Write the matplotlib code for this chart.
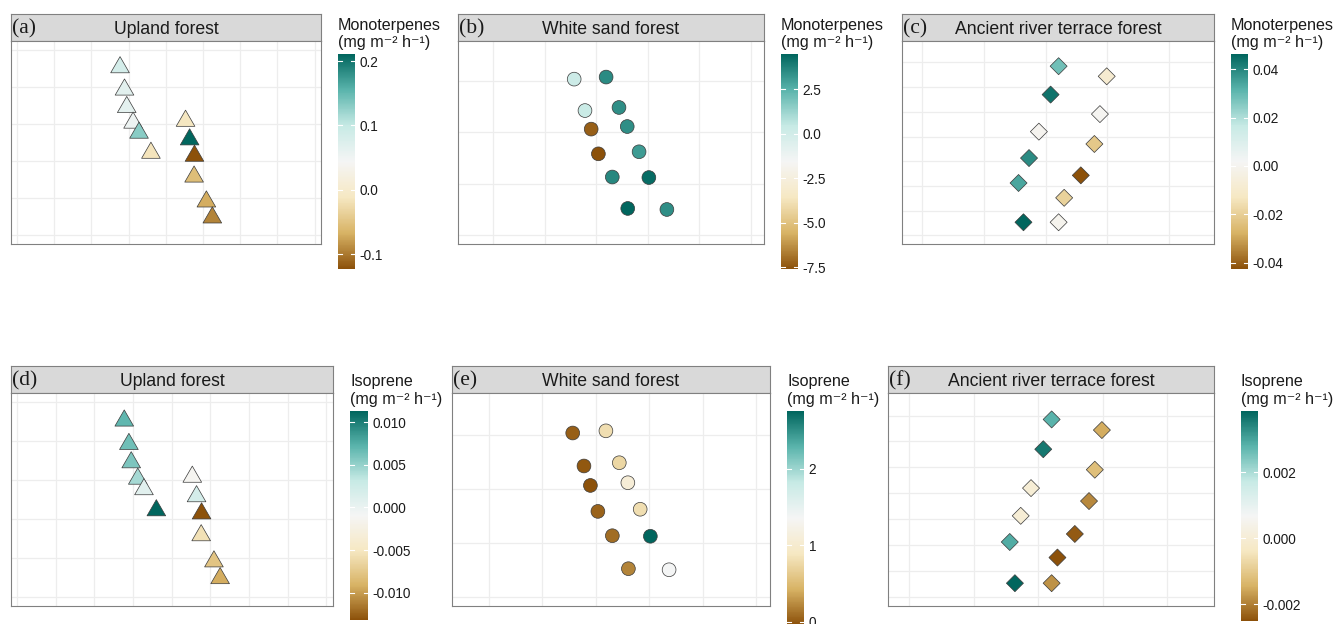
import matplotlib
matplotlib.use("Agg")
import matplotlib.pyplot as plt
from matplotlib.colors import LinearSegmentedColormap, Normalize
from matplotlib.cm import ScalarMappable
from matplotlib.path import Path

# ---------------- data ----------------
forest_names = ["Upland forest", "White sand forest", "Ancient river terrace forest"]
panel_tags = ["(a)", "(b)", "(c)", "(d)", "(e)", "(f)"]
compound_names = ["Monoterpenes", "Isoprene"]
unit_label = "(mg m\u207b\u00b2 h\u207b\u00b9)"

# tree positions (grid units)
upland_x = [2.77, 2.89, 2.95, 3.12, 3.28, 3.60, 4.53, 4.64, 4.77, 4.76, 5.09, 5.25]
upland_y = [4.52, 3.92, 3.45, 3.03, 2.76, 2.22, 3.08, 2.58, 2.14, 1.58, 0.91, 0.48]
whitesand_x = [1.57, 2.19, 1.78, 2.44, 1.90, 2.60, 2.04, 2.83, 2.31, 3.02, 2.61, 3.37]
whitesand_y = [3.03, 3.07, 2.42, 2.48, 2.06, 2.11, 1.58, 1.62, 1.13, 1.12, 0.52, 0.50]
terrace_x = [2.21, 2.99, 2.08, 2.88, 1.89, 2.79, 1.73, 2.57, 1.56, 2.30, 1.64, 2.21]
terrace_y = [6.85, 6.44, 5.70, 4.91, 4.20, 3.70, 3.13, 2.43, 2.12, 1.52, 0.53, 0.53]

# emission values (mg m-2 h-1)
upland_monoterpenes = [0.084, 0.067, 0.064, 0.054, 0.131, -0.016, -0.013, 0.211, -0.123, -0.056, -0.070, -0.093]
whitesand_monoterpenes = [0.2, 3.5, 0.3, 3.4, -7.3, 3.4, -7.6, 3.1, 3.6, 4.3, 4.47, 3.4]
terrace_monoterpenes = [0.0285, -0.0090, 0.0435, 0.0005, 0.0000, -0.022, 0.039, -0.0425, 0.034, -0.019, 0.0462, -0.0005]
upland_isoprene = [0.0069, 0.0064, 0.0059, 0.0044, 0.0008, 0.0113, -0.0014, 0.0020, -0.0132, -0.0056, -0.0078, -0.0093]
whitesand_isoprene = [0.03, 0.81, 0.0, 0.74, -0.04, 1.08, 0.05, 0.80, 0.10, 2.75, 0.20, 1.36]
terrace_isoprene = [0.0028, -0.0015, 0.0036, -0.0012, 0.0000, -0.0019, 0.0000, -0.0024, 0.0029, -0.0025, 0.00385, -0.0018]

# colourbar ticks
ticks_a = [-0.1, 0.0, 0.1, 0.2]
labels_a = ["-0.1", "0.0", "0.1", "0.2"]
ticks_b = [-7.5, -5.0, -2.5, 0.0, 2.5]
labels_b = ["-7.5", "-5.0", "-2.5", "0.0", "2.5"]
ticks_c = [-0.04, -0.02, 0.0, 0.02, 0.04]
labels_c = ["-0.04", "-0.02", "0.00", "0.02", "0.04"]
ticks_d = [-0.010, -0.005, 0.0, 0.005, 0.010]
labels_d = ["-0.010", "-0.005", "0.000", "0.005", "0.010"]
ticks_e = [0, 1, 2]
labels_e = ["0", "1", "2"]
ticks_f = [-0.002, 0.0, 0.002]
labels_f = ["-0.002", "0.000", "0.002"]

brbg7 = ["#8C510A", "#D8B365", "#F6E8C3", "#F5F5F5", "#C7EAE5", "#5AB4AC", "#01665E"]

# ---------------- layout ----------------
W, H = 1336, 624
SANS = ["Liberation Sans", "DejaVu Sans"]
SERIF = ["Liberation Serif", "DejaVu Serif"]

fig = plt.figure(figsize=(W / 100, H / 100), dpi=100)
cmap = LinearSegmentedColormap.from_list("brbg7", brbg7, N=256)


def px_axes(x0, y0, x1, y1):
    return fig.add_axes([x0 / W, 1 - y1 / H, (x1 - x0) / W, (y1 - y0) / H])


def ftext(x, y, s, **kw):
    return fig.text(x / W, 1 - y / H, s, **kw)


tri_marker = Path([(0, 0.57735), (-0.5, -0.288675), (0.5, -0.288675), (0, 0.57735)],
                  [Path.MOVETO, Path.LINETO, Path.LINETO, Path.CLOSEPOLY])
dia_marker = Path([(0, 1), (1, 0), (0, -1), (-1, 0), (0, 1)],
                  [Path.MOVETO, Path.LINETO, Path.LINETO, Path.LINETO, Path.CLOSEPOLY])

site_style = {
    0: dict(marker=tri_marker, s=241, xlim=(-0.16, 8.17), ylim=(-0.23, 5.23), nx=8, ny=5),
    1: dict(marker="o", s=98, xlim=(-0.685, 5.255), ylim=(-0.17, 3.77), nx=5, ny=3),
    2: dict(marker=dia_marker, s=150, xlim=(-0.33, 4.73), ylim=(-0.35, 7.87), nx=4, ny=7),
}

site_xy = [(upland_x, upland_y), (whitesand_x, whitesand_y), (terrace_x, terrace_y)]

panels = [
    # site, compound, values, ticks, labels, strip(x0,y0,x1,y1), plot bottom, colorbar(x0,y0,x1,y1), title baselines
    (0, 0, upland_monoterpenes, ticks_a, labels_a, (11, 14, 321, 41), 244, (338, 54, 355, 269), (30, 47)),
    (1, 0, whitesand_monoterpenes, ticks_b, labels_b, (458, 14, 764, 41), 244, (781, 54, 798, 269), (30, 47)),
    (2, 0, terrace_monoterpenes, ticks_c, labels_c, (902, 14, 1214, 41), 244, (1231, 54, 1248, 269), (30, 47)),
    (0, 1, upland_isoprene, ticks_d, labels_d, (11, 366, 333, 393), 606, (350, 411, 368, 620), (386, 404)),
    (1, 1, whitesand_isoprene, ticks_e, labels_e, (452, 366, 770, 393), 606, (787, 411, 804, 625), (386, 404)),
    (2, 1, terrace_isoprene, ticks_f, labels_f, (888, 366, 1214, 393), 606, (1241, 411, 1258, 621), (386, 404)),
]

border_col = "#808080"

for k, (site, comp, vals, ticks, labels, strip, pbottom, cbr, tbase) in enumerate(panels):
    st = site_style[site]
    sx0, sy0, sx1, sy1 = strip

    # strip
    sax = px_axes(sx0, sy0, sx1, sy1)
    sax.set_facecolor("#D9D9D9")
    sax.set_xticks([])
    sax.set_yticks([])
    for sp in sax.spines.values():
        sp.set_color(border_col)
        sp.set_linewidth(0.8)
    ftext((sx0 + sx1) / 2, sy1 - 6.5, forest_names[site], ha="center", va="baseline",
          fontsize=12.7, family=SANS, color="#1A1A1A")
    ftext(sx0 + 1.0, sy1 - 7.5, panel_tags[k], ha="left", va="baseline",
          fontsize=15.6, family=SERIF, color="#1A1A1A")

    # plot panel
    ax = px_axes(sx0, sy1, sx1, pbottom)
    ax.set_xlim(*st["xlim"])
    ax.set_ylim(*st["ylim"])
    ax.set_xticks(range(0, st["nx"] + 1))
    ax.set_yticks(range(0, st["ny"] + 1))
    ax.tick_params(length=0, labelbottom=False, labelleft=False)
    ax.grid(True, color="#EDEDED", linewidth=0.9)
    ax.set_axisbelow(True)
    for sp in ax.spines.values():
        sp.set_color(border_col)
        sp.set_linewidth(0.8)

    norm = Normalize(min(vals), max(vals))
    xs, ys = site_xy[site]
    ax.scatter(xs, ys, c=vals, cmap=cmap, norm=norm, marker=st["marker"], s=st["s"],
               edgecolors="#3A3A3A", linewidths=0.5, zorder=3)

    # colourbar
    cax = px_axes(*cbr)
    cb = fig.colorbar(ScalarMappable(norm=norm, cmap=cmap), cax=cax)
    cb.outline.set_visible(False)
    cb.set_ticks(ticks)
    cb.set_ticklabels(labels)
    cax.tick_params(length=0, pad=3.5, labelsize=9.8)
    for lab in cax.get_yticklabels():
        lab.set_family(SANS)
        lab.set_color("#1A1A1A")
    for t in ticks:
        cax.plot([0, 0.22], [t, t], color="white", lw=0.8, transform=cax.get_yaxis_transform(), zorder=5)
        cax.plot([0.78, 1], [t, t], color="white", lw=0.8, transform=cax.get_yaxis_transform(), zorder=5)
    cax.set_ylim(min(vals), max(vals))

    ftext(cbr[0], tbase[0], compound_names[comp], ha="left", va="baseline",
          fontsize=11.6, family=SANS, color="#1A1A1A")
    ftext(cbr[0], tbase[1], unit_label, ha="left", va="baseline",
          fontsize=11.6, family=SANS, color="#1A1A1A")

fig.savefig("out.png", dpi=100)
